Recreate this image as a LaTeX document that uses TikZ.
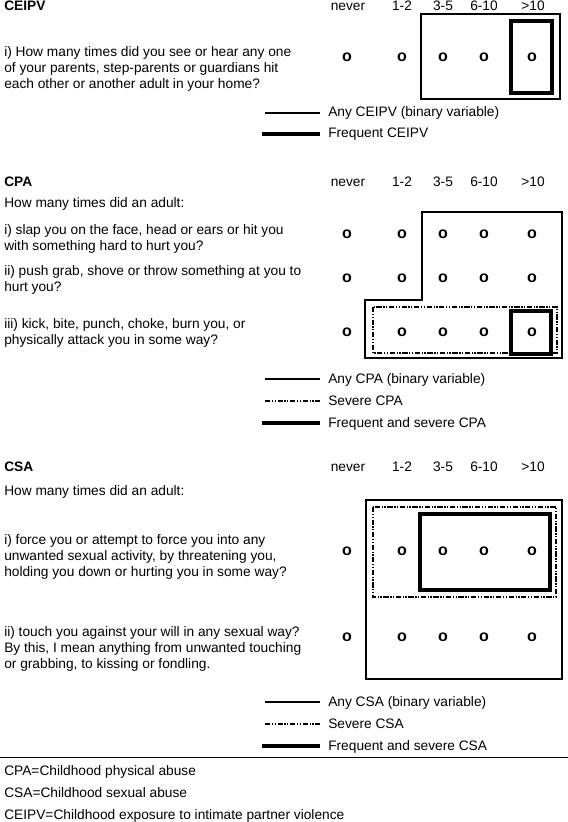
\documentclass[tikz,border=0pt]{standalone}
\usepackage{fontspec}
\setmainfont{Liberation Sans}
\begin{document}
\begin{tikzpicture}[x=0.75pt,y=-0.75pt,
  txt/.style={anchor=base west,inner sep=0pt,font=\fontsize{10.3}{12}\selectfont},
  hdr/.style={anchor=base,inner sep=0pt,font=\fontsize{10.3}{12}\selectfont},
  ttl/.style={anchor=base west,inner sep=0pt,font=\fontsize{10.3}{12}\selectfont\bfseries},
  optmark/.style={anchor=center,inner sep=0pt,font=\fontsize{12}{12}\selectfont\bfseries},
  thinln/.style={line width=1.1pt},
  legthin/.style={line width=0.8pt},
  thickln/.style={line width=2.8pt},
  sevln/.style={line width=0.9pt,dash pattern=on 4pt off 1.2pt on 1pt off 1pt on 1pt off 1.2pt}]
\useasboundingbox (0,0) rectangle (568,822);

% ---------------- CEIPV ----------------
\node[ttl] (t1) at (4,10.5) {CEIPV};
\foreach \lab/\x [count=\i] in {never/348,1-2/402,3-5/443,6-10/484,>10/533}
  \node[hdr] (h1\i) at (\x,10.5) {\lab};
\node[txt] (q1a) at (4,56.5) {i) How many times did you see or hear any one};
\node[txt] (q1b) at (4,72.5) {of your parents, step-parents or guardians hit};
\node[txt] (q1c) at (4,88.5) {each other or another adult in your home?};
\foreach \x [count=\i] in {347,402,443,484,532}
  \node[optmark] (m1\i) at (\x,57) {o};
\draw[thinln] (421,14) rectangle (560,99);
\draw[thickln] (511,21) rectangle (552,93);
\coordinate (l1a) at (265,113); \coordinate (l1b) at (320,113);
\draw[legthin] (l1a) -- (l1b);
\node[txt] (g1a) at (328,116.5) {Any CEIPV (binary variable)};
\coordinate (l1c) at (262,134); \coordinate (l1d) at (320,134);
\draw[thickln] (l1c) -- (l1d);
\node[txt] (g1b) at (328,137.5) {Frequent CEIPV};

% ---------------- CPA ----------------
\node[ttl] (t2) at (4,186.5) {CPA};
\foreach \lab/\x [count=\i] in {never/348,1-2/402,3-5/443,6-10/484,>10/533}
  \node[hdr] (h2\i) at (\x,186.5) {\lab};
\node[txt] (q2) at (4,207.5) {How many times did an adult:};
\node[txt] (q2aa) at (4,234.5) {i) slap you on the face, head or ears or hit you};
\node[txt] (q2ab) at (4,250.5) {with something hard to hurt you?};
\node[txt] (q2ba) at (4,275.5) {ii) push grab, shove or throw something at you to};
\node[txt] (q2bb) at (4,291.5) {hurt you?};
\node[txt] (q2ca) at (4,328.5) {iii) kick, bite, punch, choke, burn you, or};
\node[txt] (q2cb) at (4,344.5) {physically attack you in some way?};
\foreach \y [count=\j] in {234,278,332}
  \foreach \x [count=\i] in {347,402,443,484,532}
    \node[optmark] (m2\j\i) at (\x,\y) {o};
\draw[thinln] (422,212) -- (562,212) -- (562,358) -- (365,358) -- (365,300) -- (422,300) -- cycle;
\draw[sevln] (373,307) rectangle (557,353);
\draw[thickln] (511,311) rectangle (551,354);
\coordinate (l2a) at (265,379); \coordinate (l2b) at (320,379);
\draw[legthin] (l2a) -- (l2b);
\node[txt] (g2a) at (328,383.5) {Any CPA (binary variable)};
\coordinate (l2c) at (265,401); \coordinate (l2d) at (320,401);
\draw[sevln,line width=2pt] (l2c) -- (l2d);
\node[txt] (g2b) at (328,405.5) {Severe CPA};
\coordinate (l2e) at (262,423); \coordinate (l2f) at (320,423);
\draw[thickln] (l2e) -- (l2f);
\node[txt] (g2c) at (328,427.5) {Frequent and severe CPA};

% ---------------- CSA ----------------
\node[ttl] (t3) at (4,471.5) {CSA};
\foreach \lab/\x [count=\i] in {never/348,1-2/402,3-5/443,6-10/484,>10/533}
  \node[hdr] (h3\i) at (\x,471.5) {\lab};
\node[txt] (q3) at (4,495.5) {How many times did an adult:};
\node[txt] (q3aa) at (4,544.5) {i) force you or attempt to force you into any};
\node[txt] (q3ab) at (4,560.5) {unwanted sexual activity, by threatening you,};
\node[txt] (q3ac) at (4,576.5) {holding you down or hurting you in some way?};
\node[txt] (q3ba) at (4,636.5) {ii) touch you against your will in any sexual way?};
\node[txt] (q3bb) at (4,652.5) {By this, I mean anything from unwanted touching};
\node[txt] (q3bc) at (4,668.5) {or grabbing, to kissing or fondling.};
\foreach \y [count=\j] in {551,637}
  \foreach \x [count=\i] in {347,402,443,484,532}
    \node[optmark] (m3\j\i) at (\x,\y) {o};
\draw[thinln] (366,500) rectangle (562,679);
\draw[sevln] (373,507) rectangle (556,597);
\draw[thickln] (420,514) rectangle (550,590);
\coordinate (l3a) at (265,702); \coordinate (l3b) at (320,702);
\draw[legthin] (l3a) -- (l3b);
\node[txt] (g3a) at (328,706.5) {Any CSA (binary variable)};
\coordinate (l3c) at (265,724); \coordinate (l3d) at (320,724);
\draw[sevln,line width=2pt] (l3c) -- (l3d);
\node[txt] (g3b) at (328,728.5) {Severe CSA};
\coordinate (l3e) at (262,746); \coordinate (l3f) at (320,746);
\draw[thickln] (l3e) -- (l3f);
\node[txt] (g3c) at (328,750.5) {Frequent and severe CSA};

% ---------------- footnotes ----------------
\coordinate (sepa) at (0,757.5); \coordinate (sepb) at (568,757.5);
\draw[line width=1.3pt] (sepa) -- (sepb);
\node[txt] (f1) at (4,775.5) {CPA=Childhood physical abuse};
\node[txt] (f2) at (4,797.5) {CSA=Childhood sexual abuse};
\node[txt] (f3) at (4,819.5) {CEIPV=Childhood exposure to intimate partner violence};
\end{tikzpicture}
\end{document}
